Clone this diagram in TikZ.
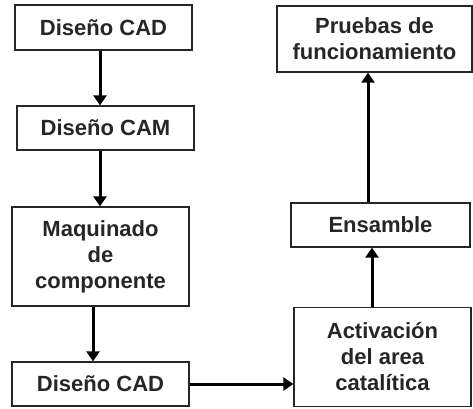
\documentclass[tikz,border=0pt]{standalone}
\usepackage{fontspec}
\setmainfont{Liberation Sans}
\usetikzlibrary{arrows.meta}
\begin{document}
\begin{tikzpicture}[x=1pt,y=-1pt,
  box/.style={draw=black!85,line width=1.3pt,rectangle,inner sep=0pt,align=center,
    font=\fontsize{22}{26}\selectfont\bfseries,text=black!85},
  arr/.style={line width=3pt,draw=black,-{Triangle[length=10pt,width=13pt]}}]
\useasboundingbox (0,0) rectangle (473,408);
\node[box,minimum width=177pt,minimum height=45pt] (b1) at (103.5,27.5) {Diseño CAD};
\node[box,minimum width=177pt,minimum height=44pt] (b2) at (105.5,128) {Diseño CAM};
\node[box,minimum width=177pt,minimum height=99pt] (b3) at (100.5,256.5) {Maquinado\\de\\componente};
\node[box,minimum width=177pt,minimum height=44pt] (b4) at (100.5,384) {Diseño CAD};
\node[box,minimum width=177pt,minimum height=99pt] (act) at (382.5,357) {Activación\\del area\\catalítica};
\node[box,minimum width=179pt,minimum height=44pt] (ens) at (380.5,225) {Ensamble};
\node[box,minimum width=195pt,minimum height=66pt] (pru) at (374.5,39) {Pruebas de\\funcionamiento};
\draw[arr] ([xshift=-3.5pt]b1.south) -- ([xshift=-3.5pt]b1.south |- b2.north);
\draw[arr] ([xshift=-5.5pt]b2.south) -- ([xshift=-5.5pt]b2.south |- b3.north);
\draw[arr] ([xshift=-7.5pt]b3.south) -- ([xshift=-7.5pt]b3.south |- b4.north);
\draw[arr] (b4.east) -- (b4.east -| act.west);
\draw[arr] ([xshift=-10.5pt]act.north) -- ([xshift=-10.5pt]act.north |- ens.south);
\draw[arr] ([xshift=-12.5pt]ens.north) -- ([xshift=-12.5pt]ens.north |- pru.south);
\end{tikzpicture}
\end{document}
